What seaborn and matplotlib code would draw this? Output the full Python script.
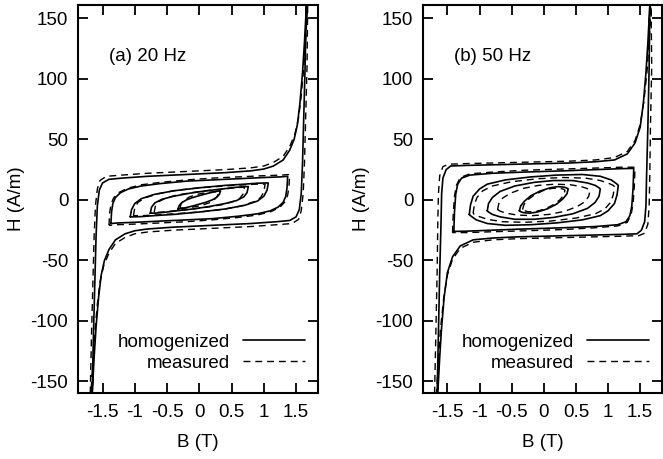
import pandas as pd
import seaborn as sns
import matplotlib.pyplot as plt

# (B [T], H [A/m]) points, each list is one closed loop
# panel (a) 20 Hz
a_hom_1 = [(-1.66, -160), (-1.64, -110), (-1.62, -70), (-1.60, -30), (-1.58, -5), (-1.55, 8), (-1.50, 14),
           (-1.40, 17), (-1.20, 18), (-0.80, 19.5), (-0.40, 20.5), (0.00, 21.5), (0.40, 22.5), (0.80, 24),
           (1.00, 25.5), (1.15, 28), (1.30, 33), (1.40, 41), (1.47, 50), (1.52, 62), (1.56, 80), (1.60, 105),
           (1.63, 130), (1.66, 160),
           (1.64, 110), (1.62, 70), (1.60, 30), (1.58, 5), (1.55, -8), (1.50, -14), (1.40, -17), (1.20, -18),
           (0.80, -19.5), (0.40, -20.5), (0.00, -21.5), (-0.40, -22.5), (-0.80, -24), (-1.00, -25.5),
           (-1.15, -28), (-1.30, -33), (-1.40, -41), (-1.47, -50), (-1.52, -62), (-1.56, -80), (-1.60, -105),
           (-1.63, -130), (-1.66, -160)]
a_meas_1 = [(-1.69, -160), (-1.67, -110), (-1.65, -70), (-1.63, -30), (-1.61, -5), (-1.58, 9), (-1.54, 16),
            (-1.44, 19.5), (-1.20, 20.5), (-0.80, 22), (-0.40, 23), (0.00, 24), (0.40, 25), (0.80, 26.5),
            (1.00, 28), (1.15, 31), (1.30, 36), (1.40, 44), (1.48, 54), (1.54, 68), (1.58, 86), (1.62, 110),
            (1.65, 134), (1.68, 160),
            (1.67, 110), (1.65, 70), (1.63, 30), (1.61, 5), (1.58, -9), (1.54, -16), (1.44, -19.5), (1.20, -20.5),
            (0.80, -22), (0.40, -23), (0.00, -24), (-0.40, -25), (-0.80, -26.5), (-1.00, -28), (-1.15, -31),
            (-1.30, -36), (-1.40, -44), (-1.48, -54), (-1.54, -68), (-1.58, -86), (-1.62, -110), (-1.65, -134),
            (-1.68, -160)]
a_hom_2 = [(-1.37, -19.5), (-1.36, -10), (-1.34, -3), (-1.30, 2), (-1.22, 6), (-1.10, 9), (-0.90, 11.5),
           (-0.60, 13.5), (-0.20, 15.5), (0.20, 16.5), (0.60, 17.5), (1.00, 18.5), (1.25, 19), (1.37, 19.5),
           (1.36, 10), (1.34, 3), (1.30, -2), (1.22, -6), (1.10, -9), (0.90, -11.5), (0.60, -13.5),
           (0.20, -15.5), (-0.20, -16.5), (-0.60, -17.5), (-1.00, -18.5), (-1.25, -19), (-1.37, -19.5)]
a_meas_2 = [(-1.40, -21), (-1.39, -11), (-1.37, -4), (-1.33, 1.5), (-1.25, 6), (-1.12, 9.5), (-0.90, 12.5),
            (-0.60, 14.5), (-0.20, 16.5), (0.20, 18), (0.60, 19), (1.00, 20), (1.28, 20.5), (1.40, 21),
            (1.39, 11), (1.37, 4), (1.33, -1.5), (1.25, -6), (1.12, -9.5), (0.90, -12.5), (0.60, -14.5),
            (0.20, -16.5), (-0.20, -18), (-0.60, -19), (-1.00, -20), (-1.28, -20.5), (-1.40, -21)]
a_hom_3 = [(-1.07, -14), (-1.05, -8), (-1.00, -3), (-0.90, 1), (-0.70, 4.5), (-0.40, 7.5), (0.00, 10),
           (0.40, 12), (0.70, 13), (0.90, 13.8), (1.02, 14), (1.07, 14),
           (1.05, 8), (1.00, 3), (0.90, -1), (0.70, -4.5), (0.40, -7.5), (0.00, -10), (-0.40, -12),
           (-0.70, -13), (-0.90, -13.8), (-1.02, -14), (-1.07, -14)]
a_meas_3 = [(-1.02, -13), (-1.00, -6.5), (-0.95, -2), (-0.85, 1.5), (-0.65, 5), (-0.35, 8), (0.00, 10),
            (0.40, 11.5), (0.70, 12.5), (0.88, 13), (0.98, 13), (1.02, 13),
            (1.00, 6.5), (0.95, 2), (0.85, -1.5), (0.65, -5), (0.35, -8), (0.00, -10), (-0.40, -11.5),
            (-0.70, -12.5), (-0.88, -13), (-0.98, -13), (-1.02, -13)]
a_hom_4 = [(-0.76, -11), (-0.74, -6), (-0.69, -2.5), (-0.58, 0.5), (-0.40, 3), (-0.15, 5.5), (0.10, 7.5),
           (0.35, 9), (0.55, 10.3), (0.68, 10.9), (0.76, 11),
           (0.74, 6), (0.69, 2.5), (0.58, -0.5), (0.40, -3), (0.15, -5.5), (-0.10, -7.5), (-0.35, -9),
           (-0.55, -10.3), (-0.68, -10.9), (-0.76, -11)]
a_meas_4 = [(-0.70, -10.5), (-0.68, -5), (-0.63, -1.5), (-0.52, 1.5), (-0.35, 4), (-0.12, 6), (0.10, 7.5),
            (0.35, 8.8), (0.52, 9.8), (0.64, 10.3), (0.70, 10.5),
            (0.68, 5), (0.63, 1.5), (0.52, -1.5), (0.35, -4), (0.12, -6), (-0.10, -7.5), (-0.35, -8.8),
            (-0.52, -9.8), (-0.64, -10.3), (-0.70, -10.5)]
a_hom_5 = [(-0.33, -7.5), (-0.31, -4.5), (-0.27, -2.2), (-0.20, 0), (-0.10, 2), (0.00, 3.5), (0.10, 5),
           (0.20, 6.3), (0.28, 7.2), (0.33, 7.5),
           (0.31, 4.5), (0.27, 2.2), (0.20, 0), (0.10, -2), (0.00, -3.5), (-0.10, -5), (-0.20, -6.3),
           (-0.28, -7.2), (-0.33, -7.5)]
a_meas_5 = [(-0.30, -6.5), (-0.28, -3), (-0.23, 0), (-0.15, 2.5), (-0.05, 4.3), (0.05, 5.5), (0.15, 6.3),
            (0.24, 6.8), (0.30, 6.5),
            (0.28, 3), (0.23, 0), (0.15, -2.5), (0.05, -4.3), (-0.05, -5.5), (-0.15, -6.3), (-0.24, -6.8),
            (-0.30, -6.5)]

# panel (b) 50 Hz
b_hom_1 = [(-1.66, -160), (-1.64, -110), (-1.62, -60), (-1.60, -20), (-1.59, 5), (-1.57, 18), (-1.52, 25),
           (-1.45, 28), (-1.20, 28.5), (-0.80, 29), (-0.40, 29.5), (0.00, 30), (0.40, 30.5), (0.80, 31.5),
           (1.10, 33), (1.30, 38), (1.42, 47), (1.50, 60), (1.55, 80), (1.59, 105), (1.62, 130), (1.65, 160),
           (1.64, 110), (1.62, 60), (1.60, 20), (1.59, -5), (1.57, -18), (1.52, -25), (1.45, -28), (1.20, -28.5),
           (0.80, -29), (0.40, -29.5), (0.00, -30), (-0.40, -30.5), (-0.80, -31.5), (-1.10, -33), (-1.30, -38),
           (-1.42, -47), (-1.50, -60), (-1.55, -80), (-1.59, -105), (-1.62, -130), (-1.65, -160)]
b_meas_1 = [(-1.70, -160), (-1.68, -110), (-1.66, -60), (-1.65, -20), (-1.64, 5), (-1.62, 20), (-1.57, 27.5),
            (-1.48, 29.5), (-1.20, 30), (-0.80, 30.5), (-0.40, 31), (0.00, 31.5), (0.40, 32), (0.80, 33),
            (1.10, 35), (1.30, 40), (1.42, 49), (1.50, 62), (1.56, 82), (1.61, 108), (1.64, 132), (1.67, 160),
            (1.68, 110), (1.66, 60), (1.65, 20), (1.64, -5), (1.62, -20), (1.57, -27.5), (1.48, -29.5),
            (1.20, -30), (0.80, -30.5), (0.40, -31), (0.00, -31.5), (-0.40, -32), (-0.80, -33), (-1.10, -35),
            (-1.30, -40), (-1.42, -49), (-1.50, -62), (-1.56, -82), (-1.61, -108), (-1.64, -132), (-1.67, -160)]
b_hom_2 = [(-1.40, -26), (-1.39, -10), (-1.37, 5), (-1.34, 13), (-1.28, 18), (-1.15, 20.5), (-0.80, 22),
           (-0.30, 23), (0.30, 24), (0.80, 25), (1.20, 25.8), (1.36, 26), (1.40, 26),
           (1.39, 10), (1.37, -5), (1.34, -13), (1.28, -18), (1.15, -20.5), (0.80, -22), (0.30, -23),
           (-0.30, -24), (-0.80, -25), (-1.20, -25.8), (-1.36, -26), (-1.40, -26)]
b_meas_2 = [(-1.42, -27), (-1.41, -12), (-1.39, 3), (-1.36, 12), (-1.30, 18.5), (-1.15, 21.5), (-0.80, 23),
            (-0.30, 24.5), (0.30, 25.5), (0.80, 26.3), (1.20, 27), (1.38, 27), (1.42, 27),
            (1.41, 12), (1.39, -3), (1.36, -12), (1.30, -18.5), (1.15, -21.5), (0.80, -23), (0.30, -24.5),
            (-0.30, -25.5), (-0.80, -26.3), (-1.20, -27), (-1.38, -27), (-1.42, -27)]
b_hom_3 = [(-1.16, -12), (-1.14, -4), (-1.10, 3), (-1.00, 9), (-0.88, 13), (-0.60, 16.5), (-0.20, 19),
           (0.20, 20.5), (0.60, 21), (0.88, 19.5), (1.05, 16.5), (1.13, 13.5), (1.16, 12),
           (1.14, 4), (1.10, -3), (1.00, -9), (0.88, -13), (0.60, -16.5), (0.20, -19), (-0.20, -20.5),
           (-0.60, -21), (-0.88, -19.5), (-1.05, -16.5), (-1.13, -13.5), (-1.16, -12)]
b_meas_3 = [(-1.10, -11), (-1.08, -4), (-1.04, 2), (-0.95, 7.5), (-0.80, 11.5), (-0.50, 15), (-0.10, 17.5),
            (0.30, 18.5), (0.65, 18), (0.88, 16), (1.02, 13.5), (1.08, 12), (1.10, 11),
            (1.08, 4), (1.04, -2), (0.95, -7.5), (0.80, -11.5), (0.50, -15), (0.10, -17.5), (-0.30, -18.5),
            (-0.65, -18), (-0.88, -16), (-1.02, -13.5), (-1.08, -12), (-1.10, -11)]
b_hom_4 = [(-0.88, -9), (-0.86, -3), (-0.80, 2), (-0.68, 7), (-0.45, 11.5), (-0.15, 14.5), (0.15, 16),
           (0.45, 16), (0.68, 14), (0.80, 12), (0.86, 10), (0.88, 9),
           (0.86, 3), (0.80, -2), (0.68, -7), (0.45, -11.5), (0.15, -14.5), (-0.15, -16), (-0.45, -16),
           (-0.68, -14), (-0.80, -12), (-0.86, -10), (-0.88, -9)]
b_meas_4 = [(-0.72, -8), (-0.70, -3), (-0.64, 1.5), (-0.52, 5.5), (-0.32, 9.5), (-0.08, 12), (0.18, 13),
            (0.42, 12.5), (0.58, 11), (0.67, 9.5), (0.72, 8),
            (0.70, 3), (0.64, -1.5), (0.52, -5.5), (0.32, -9.5), (0.08, -12), (-0.18, -13), (-0.42, -12.5),
            (-0.58, -11), (-0.67, -9.5), (-0.72, -8)]
b_hom_5 = [(-0.38, -9), (-0.36, -5), (-0.30, -1), (-0.20, 3.5), (-0.05, 7.5), (0.10, 10), (0.22, 11),
           (0.32, 10.5), (0.37, 9.5), (0.38, 9),
           (0.36, 5), (0.30, 1), (0.20, -3.5), (0.05, -7.5), (-0.10, -10), (-0.22, -11), (-0.32, -10.5),
           (-0.37, -9.5), (-0.38, -9)]
b_meas_5 = [(-0.33, -8), (-0.31, -4), (-0.25, 0), (-0.15, 4), (-0.02, 7.5), (0.12, 9.5), (0.24, 9.8),
            (0.31, 8.8), (0.33, 8),
            (0.31, 4), (0.25, 0), (0.15, -4), (0.02, -7.5), (-0.12, -9.5), (-0.24, -9.8), (-0.31, -8.8),
            (-0.33, -8)]

panels = [
    ("(a) 20 Hz", [a_hom_1, a_hom_2, a_hom_3, a_hom_4, a_hom_5],
     [a_meas_1, a_meas_2, a_meas_3, a_meas_4, a_meas_5]),
    ("(b) 50 Hz", [b_hom_1, b_hom_2, b_hom_3, b_hom_4, b_hom_5],
     [b_meas_1, b_meas_2, b_meas_3, b_meas_4, b_meas_5]),
]
x_ticks = [-1.5, -1, -0.5, 0, 0.5, 1, 1.5]
x_ticklabels = ["-1.5", "-1", "-0.5", "0", "0.5", "1", "1.5"]
y_ticks = [-150, -100, -50, 0, 50, 100, 150]

sns.set_theme(style="ticks")
plt.rcParams["font.family"] = ["Liberation Sans", "DejaVu Sans"]
plt.rcParams["axes.unicode_minus"] = False
plt.rcParams["text.color"] = "black"
plt.rcParams["axes.labelcolor"] = "black"
plt.rcParams["xtick.color"] = "black"
plt.rcParams["ytick.color"] = "black"

DASH = (0, (5, 3.5))
fig = plt.figure(figsize=(6.63, 4.59), dpi=100)
axes = [fig.add_axes([78 / 663, 66 / 459, 240 / 663, 388 / 459]),
        fig.add_axes([423 / 663, 66 / 459, 239 / 663, 388 / 459])]

for ax, (title, hom, meas) in zip(axes, panels):
    for i, loop in enumerate(meas):
        df = pd.DataFrame(loop, columns=["B", "H"])
        sns.lineplot(data=df, x="B", y="H", sort=False, estimator=None, color="black",
                     linewidth=1.0, linestyle=DASH, ax=ax,
                     label="measured" if i == 0 else None, legend=False)
    for i, loop in enumerate(hom):
        df = pd.DataFrame(loop, columns=["B", "H"])
        sns.lineplot(data=df, x="B", y="H", sort=False, estimator=None, color="black",
                     linewidth=1.2, ax=ax,
                     label="homogenized" if i == 0 else None, legend=False)

    ax.set_xlim(-1.88, 1.84)
    ax.set_ylim(-159.5, 161)
    ax.set_xticks(x_ticks)
    ax.set_xticklabels(x_ticklabels)
    ax.set_yticks(y_ticks)
    ax.tick_params(direction="in", top=True, right=True, length=7, width=1.3,
                   labelsize=13.5, colors="black")
    ax.tick_params(axis="x", pad=8)
    ax.tick_params(axis="y", pad=7)
    for sp in ax.spines.values():
        sp.set_linewidth(1.5)
        sp.set_color("black")
    ax.set_xlabel("B (T)", fontsize=13.5, labelpad=9)
    ax.set_ylabel("H (A/m)", fontsize=13.5, labelpad=4)
    ax.text(0.13, 0.866, title, transform=ax.transAxes, fontsize=13.5, va="center", ha="left")

    handles, labels = ax.get_legend_handles_labels()
    order = [labels.index("homogenized"), labels.index("measured")]
    ax.legend([handles[k] for k in order], [labels[k] for k in order], loc="lower right",
              bbox_to_anchor=(0.977, 0.035), borderaxespad=0,
              frameon=False, markerfirst=False, handlelength=3.3, fontsize=13.5,
              labelspacing=0.2, handletextpad=0.7)

fig.savefig("out.png", dpi=100)
